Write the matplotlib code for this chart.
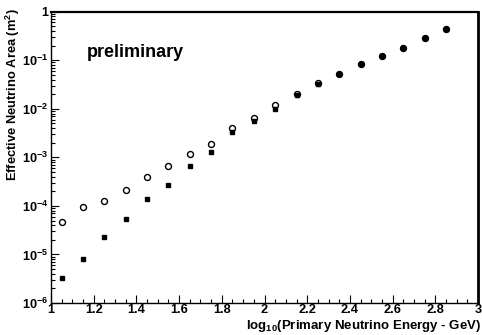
import math
import matplotlib
matplotlib.use('Agg')
import matplotlib.pyplot as plt
from matplotlib.ticker import FixedLocator, FuncFormatter, LogLocator, MultipleLocator

plt.rcParams['font.family'] = ['Liberation Sans', 'DejaVu Sans']
plt.rcParams['mathtext.fontset'] = 'custom'
plt.rcParams['mathtext.rm'] = 'Liberation Sans:bold'
plt.rcParams['mathtext.bf'] = 'Liberation Sans:bold'
plt.rcParams['mathtext.it'] = 'Liberation Sans:bold'

# log10(E/GeV) bin centres
energy = [1.05, 1.15, 1.25, 1.35, 1.45, 1.55, 1.65, 1.75, 1.85, 1.95,
          2.05, 2.15, 2.25, 2.35, 2.45, 2.55, 2.65, 2.75, 2.85]
# effective area, open circles
area_open = [4.65e-5, 9.3e-5, 1.29e-4, 2.11e-4, 3.85e-4, 6.5e-4, 1.15e-3, 1.87e-3,
             4.1e-3, 6.6e-3, 1.18e-2, 2.0e-2, 3.4e-2, 5.2e-2, 8.3e-2, 0.124, 0.179,
             0.288, 0.447]
# effective area, filled squares
area_filled = [3.27e-6, 8.0e-6, 2.24e-5, 5.4e-5, 1.41e-4, 2.7e-4, 6.6e-4, 1.32e-3,
               3.35e-3, 5.5e-3, 1.0e-2, 1.9e-2, 3.3e-2, 5.1e-2, 8.2e-2, 0.122, 0.177,
               0.285, 0.44]

fig = plt.figure(figsize=(4.82, 3.35), dpi=100)
ax = fig.add_axes([0.1058, 0.0955, 0.886, 0.8695])

ax.plot(energy, area_open, 'o', mfc='white', mec='black', mew=1.0, ms=4.3)
ax.plot(energy, area_filled, 's', color='black', ms=3.0)

ax.set_xlim(1, 3)
ax.set_yscale('log')
ax.set_ylim(1e-6, 1)

ax.xaxis.set_major_locator(MultipleLocator(0.2))
ax.xaxis.set_minor_locator(MultipleLocator(0.05))
ax.xaxis.set_major_formatter(FuncFormatter(lambda v, p: '%g' % round(v, 2)))
ax.yaxis.set_major_locator(FixedLocator([1e-6, 1e-5, 1e-4, 1e-3, 1e-2, 1e-1, 1]))
ax.yaxis.set_minor_locator(LogLocator(base=10, subs=range(2, 10), numticks=20))
ax.yaxis.set_minor_formatter(FuncFormatter(lambda v, p: ''))


def ylab(v, p):
    if v >= 1:
        return '1'
    e = int(round(math.log10(v)))
    return r'$\mathbf{10^{%d}}$' % e


ax.yaxis.set_major_formatter(FuncFormatter(ylab))

ax.tick_params(which='both', direction='in', top=False, right=False)
ax.tick_params(which='major', length=6, width=0.8, labelsize=9.2, pad=2)
ax.tick_params(axis='x', which='major', labelsize=9.2, pad=0.5)
ax.tick_params(which='minor', length=3, width=0.8)
for lab in ax.get_xticklabels() + ax.get_yticklabels():
    lab.set_fontweight('bold')

ax.spines['left'].set_linewidth(1.0)
ax.spines['bottom'].set_linewidth(1.0)
ax.spines['top'].set_linewidth(1.6)
ax.spines['right'].set_linewidth(2.0)

fig.text(13 / 482, 1 - 8 / 335, r'Effective Neutrino Area (m$^{2}$)', fontsize=9.3,
         fontweight='bold', rotation=90, ha='center', va='top')
fig.text(481 / 482, 6 / 335, r'log$_{10}$(Primary Neutrino Energy - GeV)', fontsize=9.5,
         fontweight='bold', ha='right', va='baseline')

ax.text(0.085, 0.86, 'preliminary', transform=ax.transAxes, fontsize=13,
        fontweight='bold', ha='left', va='center')

fig.savefig('out.png', dpi=100)
